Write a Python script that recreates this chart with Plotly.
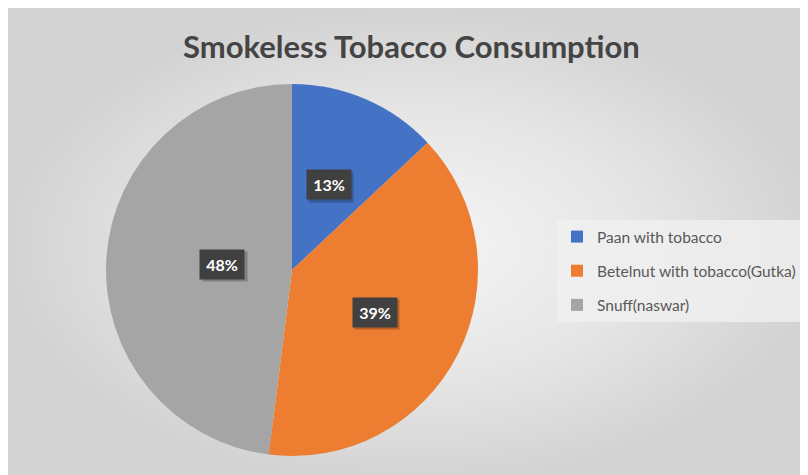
import math
import plotly.graph_objects as go

categories = ["Paan with tobacco", "Betelnut with tobacco(Gutka)", "Snuff(naswar)"]
values = [13, 39, 48]
colors = ["#4472C4", "#ED7D31", "#A5A5A5"]
title_text = "Smokeless Tobacco Consumption"

W, H = 808, 475
FONT = "Lato, Open Sans, sans-serif"
# pie geometry (figure pixels)
cx, cy, R = 284, 262, 186
dom_x = [(cx - R) / W, (cx + R) / W]
dom_y = [1 - (cy + R) / H, 1 - (cy - R) / H]

fig = go.Figure()

# gradient background panel
fig.add_trace(go.Scatter(
    x=[0, 1, 1, 0, 0], y=[0, 0, 1, 1, 0], mode="lines", fill="toself",
    line=dict(width=0, color="rgba(0,0,0,0)"),
    fillgradient=dict(type="radial",
                      colorscale=[[0, "#f5f5f5"], [0.55, "#e6e6e6"], [1, "#d3d3d3"]]),
    hoverinfo="skip", showlegend=False))

fig.add_trace(go.Pie(
    labels=categories, values=values, sort=False, direction="clockwise",
    rotation=0, marker=dict(colors=colors, line=dict(width=0)),
    textinfo="none", hoverinfo="label+percent", showlegend=False,
    domain=dict(x=dom_x, y=dom_y)))

# legend entries
for name, col in zip(categories, colors):
    fig.add_trace(go.Scatter(
        x=[None], y=[None], mode="markers", name=name, legendgroup=name,
        marker=dict(symbol="square", size=10, color=col), showlegend=True))

# data labels in dark boxes, placed along slice mid-angles
total = sum(values)
cum = 0
shadows, labels = [], []
for v in values:
    mid = (cum + v / 2) / total * 2 * math.pi
    cum += v
    r = 0.5 * R
    px = cx + r * math.sin(mid)
    py = cy - r * math.cos(mid)
    common = dict(xref="paper", yref="paper", showarrow=False,
                  width=34, height=19, borderpad=5)
    shadows.append(dict(x=(px + 2.5) / W, y=1 - (py + 2.5) / H,
                        text=" ", bgcolor="rgba(0,0,0,0.22)", **common))
    labels.append(dict(
        x=px / W, y=1 - py / H,
        text=f"<b>{round(v / total * 100)}%</b>",
        font=dict(family=FONT, size=16, color="white"),
        bgcolor="#404040", **common))

annotations = shadows + labels
annotations.append(dict(
    x=403 / W, y=1 - 38 / H, xref="paper", yref="paper", xanchor="center", yanchor="middle",
    text=f"<b>{title_text}</b>", showarrow=False,
    font=dict(family=FONT, size=31, color="#444444")))

fig.update_layout(
    width=W, height=H, margin=dict(l=0, r=0, t=0, b=0),
    paper_bgcolor="white", plot_bgcolor="rgba(0,0,0,0)",
    xaxis=dict(domain=[0, 1], range=[0, 1], visible=False, fixedrange=True),
    yaxis=dict(domain=[0, 1], range=[0, 1], visible=False, fixedrange=True),
    legend=dict(x=549 / W, y=1 - 263 / H, xanchor="left", yanchor="middle",
                bgcolor="rgba(240,240,240,0.8)",
                font=dict(family=FONT, size=15.5, color="#595959"),
                itemsizing="constant", tracegroupgap=11),
    annotations=annotations,
    showlegend=True,
)

fig.write_html("out.html")
